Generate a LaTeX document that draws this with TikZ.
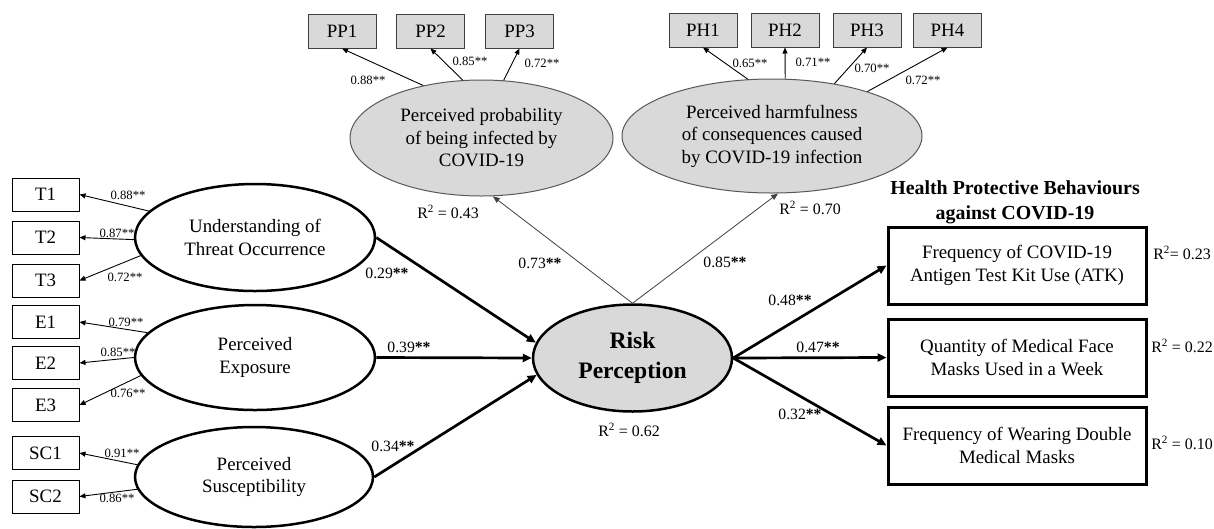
\documentclass[tikz,border=0pt]{standalone}
\usepackage{fontspec}
\setmainfont{Liberation Serif}
\usetikzlibrary{shapes.geometric,arrows.meta}

\newcommand{\rsq}{\textsuperscript{2}}

\begin{document}
\begin{tikzpicture}[
	every node/.style={inner sep=0pt, font=\fontsize{18.9}{22.5}\selectfont},
	item/.style={draw, line width=1pt, minimum width=67pt, minimum height=33pt},
	itemgray/.style={draw=black!75, line width=1pt, fill=gray!30, minimum width=68pt, minimum height=34pt},
	latent/.style={ellipse, draw, line width=2.5pt, align=center},
	outer/.style={ellipse, draw=black!65, line width=1pt, fill=gray!30, align=center},
	outcome/.style={draw, line width=3pt, minimum width=258pt, minimum height=77pt, align=center},
	load/.style={-{Triangle[length=6pt,width=5pt]}, line width=0.9pt},
	effect/.style={-{Triangle[length=9pt,width=8pt]}, line width=2.7pt},
	second/.style={-{Triangle[length=7pt,width=5.5pt]}, line width=0.8pt, draw=black!75},
	coef/.style={font=\fontsize{12.7}{14}\selectfont},
	beta/.style={font=\fontsize{15.7}{18}\selectfont},
	rsqlabel/.style={font=\fontsize{15.9}{18}\selectfont},
]
	\begin{scope}[x=1pt,y=-1pt]
		\useasboundingbox (0,0) rectangle (1214,528);

		% indicators, left
		\node[item] (T1) at (45.5,194.5) {T1};
		\node[item] (T2) at (45.5,237.5) {T2};
		\node[item] (T3) at (45.5,280.5) {T3};
		\node[item] (E1) at (45.5,322) {E1};
		\node[item] (E2) at (45.5,363) {E2};
		\node[item] (E3) at (45.5,405) {E3};
		\node[item] (SC1) at (45.5,453) {SC1};
		\node[item] (SC2) at (45.5,496.5) {SC2};

		% indicators, top
		\node[itemgray] (PP1) at (342,31) {PP1};
		\node[itemgray] (PP2) at (430.5,31) {PP2};
		\node[itemgray] (PP3) at (519.5,31) {PP3};
		\node[itemgray] (PH1) at (703,30) {PH1};
		\node[itemgray] (PH2) at (785,30) {PH2};
		\node[itemgray] (PH3) at (867,30) {PH3};
		\node[itemgray] (PH4) at (947.5,30) {PH4};

		% latent variables
		\node[latent, minimum width=240pt, minimum height=107pt] (und) at (255,237.5) {Understanding of\\Threat Occurrence};
		\node[latent, minimum width=240pt, minimum height=105pt] (exp) at (255,357.5) {Perceived\\Exposure};
		\node[latent, minimum width=238pt, minimum height=100pt] (sus) at (254,477) {Perceived\\Susceptibility};
		\node[latent, fill=gray!30, minimum width=199pt, minimum height=107pt, font=\fontsize{23.6}{30}\selectfont\bfseries] (rp) at (632.5,358) {Risk\\Perception};
		\node[outer, minimum width=263pt, minimum height=116pt] (prob) at (481.5,138) {Perceived probability\\of being infected by\\COVID-19};
		\node[outer, minimum width=300pt, minimum height=114pt] (harm) at (772,136) {Perceived harmfulness\\of consequences caused\\by COVID-19 infection};

		% outcomes
		\node[font=\fontsize{19.9}{25}\selectfont\bfseries, align=center] (title) at (1015,202.5) {Health Protective Behaviours\\against COVID-19};
		\node[outcome] (atk) at (1017,265.5) {Frequency of COVID-19\\Antigen Test Kit Use (ATK)};
		\node[outcome] (mask) at (1017,357.5) {Quantity of Medical Face\\Masks Used in a Week};
		\node[outcome] (dbl) at (1017,445.5) {Frequency of Wearing Double\\Medical Masks};

		% loadings
		\draw[load] (und.166) -- (T1.east);
		\draw[load] (und.181) -- (T2.east);
		\draw[load] (und.189) -- (T3.east);
		\draw[load] (exp.167) -- (E1.east);
		\draw[load] (exp.180) -- (E2.east);
		\draw[load] (exp.189) -- (E3.east);
		\draw[load] (sus.174) -- (SC1.east);
		\draw[load] (sus.186) -- (SC2.east);
		\draw[load] (prob.138) -- (PP1.south);
		\draw[load] (prob.108) -- (PP2.south);
		\draw[load] (prob.69) -- (PP3.south);
		\draw[load] (harm.113) -- (PH1.south);
		\draw[load] (harm.77) -- (PH2.south);
		\draw[load] (harm.40) -- (PH3.south);
		\draw[load] (harm.25) -- (PH4.south);

		\node[coef] (l1) at (128,195) {0.88**};
		\node[coef] (l2) at (117,233) {0.87**};
		\node[coef] (l3) at (125,277) {0.72**};
		\node[coef] (l4) at (126,322) {0.79**};
		\node[coef] (l5) at (118,352) {0.85**};
		\node[coef] (l6) at (128,393) {0.76**};
		\node[coef] (l7) at (122,453) {0.91**};
		\node[coef] (l8) at (117,498) {0.86**};
		\node[coef] (l9) at (368,80) {0.88**};
		\node[coef] (l10) at (470,61) {0.85**};
		\node[coef] (l11) at (542,63) {0.72**};
		\node[coef] (l12) at (750,63) {0.65**};
		\node[coef] (l13) at (813,62) {0.71**};
		\node[coef] (l14) at (872,68) {0.70**};
		\node[coef] (l15) at (923,80) {0.72**};

		% structural paths
		\draw[effect] (und.east) -- (rp.171);
		\draw[effect] (exp.east) -- (rp.west);
		\draw[effect] (sus.east) -- (rp.190);
		\draw[second] (rp.north) -- (prob.-79);
		\draw[second] (rp.north) -- (harm.-84);
		\draw[effect] (rp.east) -- (atk.west);
		\draw[effect] (rp.east) -- (mask.west);
		\draw[effect] (rp.east) -- (dbl.west);

		\node[beta] (b1) at (387,273) {0.29\textbf{**}};
		\node[beta] (b2) at (409,347) {0.39\textbf{**}};
		\node[beta] (b3) at (393,446) {0.34\textbf{**}};
		\node[beta] (b4) at (540,263) {0.73\textbf{**}};
		\node[beta] (b5) at (725,262) {0.85\textbf{**}};
		\node[beta] (b6) at (790,300) {0.48\textbf{**}};
		\node[beta] (b7) at (818,347) {0.47\textbf{**}};
		\node[beta] (b8) at (800,414) {0.32\textbf{**}};

		% explained variance
		\node[rsqlabel] (r1) at (448,212) {R\rsq{} = 0.43};
		\node[rsqlabel] (r2) at (810,208) {R\rsq{} = 0.70};
		\node[rsqlabel] (r3) at (629,430) {R\rsq{} = 0.62};
		\node[rsqlabel] (r4) at (1182,253) {R\rsq= 0.23};
		\node[rsqlabel] (r5) at (1182,346) {R\rsq{} = 0.22};
		\node[rsqlabel] (r6) at (1182,443) {R\rsq{} = 0.10};
	\end{scope}
\end{tikzpicture}
\end{document}
